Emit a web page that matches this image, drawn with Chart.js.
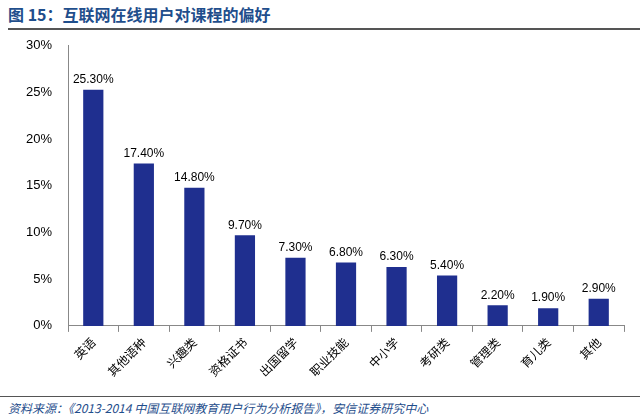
<!DOCTYPE html>
<html><head><meta charset="utf-8">
<script src="https://cdn.jsdelivr.net/npm/chart.js@4/dist/chart.umd.min.js"></script>
<style>
body{margin:0;background:#fff;width:640px;height:420px;position:relative;overflow:hidden;font-family:"Noto Sans CJK SC",sans-serif}
#title{position:absolute;left:8px;top:2px;font-size:16px;font-weight:bold;color:#1f4e8c}
#tl{position:absolute;left:8px;right:0;top:28px;border-top:2px solid #555}
#bl{position:absolute;left:0;right:0;top:396px;border-top:1px solid #555}
#src{position:absolute;left:8px;top:399px;font-size:12px;font-style:italic;color:#1f4e8c}
#wrap{position:absolute;left:0;top:30px;width:640px;height:362px}
</style></head><body>
<div id="title">图 15：互联网在线用户对课程的偏好</div>
<div id="tl"></div>
<div id="wrap"><canvas id="c"></canvas></div>
<div id="bl"></div>
<div id="src">资料来源：《2013-2014 中国互联网教育用户行为分析报告》，安信证券研究中心</div>
<script>
const categories=["英语","其他语种","兴趣类","资格证书","出国留学","职业技能","中小学","考研类","管理类","育儿类","其他"];
const values=[25.3,17.4,14.8,9.7,7.3,6.8,6.3,5.4,2.2,1.9,2.9];
const yTicks=[0,5,10,15,20,25,30];
const labelPlugin={id:'lbl',afterDatasetsDraw(ch){const ctx=ch.ctx;const m=ch.getDatasetMeta(0);ctx.save();ctx.font='12px "Liberation Sans",Arial';ctx.fillStyle='#000';ctx.textAlign='center';ctx.textBaseline='bottom';
m.data.forEach((b,i)=>ctx.fillText(values[i].toFixed(2)+'%',b.x,b.y-4));ctx.restore();}};
new Chart(document.getElementById('c'),{type:'bar',
data:{labels:categories,datasets:[{data:values,backgroundColor:'#1f2f8f',barPercentage:0.4,categoryPercentage:1}]},
options:{responsive:true,maintainAspectRatio:false,animation:false,
layout:{padding:{left:18,right:16,top:8,bottom:10}},
plugins:{legend:{display:false},tooltip:{enabled:false}},
scales:{y:{min:0,max:30,afterBuildTicks(a){a.ticks=yTicks.map(v=>({value:v}));},
ticks:{callback:v=>v+'%',color:'#000',font:{size:13,family:'"Liberation Sans",Arial'},padding:8},
grid:{display:false,drawTicks:true},border:{color:'#888'}},
x:{ticks:{color:'#000',maxRotation:45,minRotation:45,font:{size:12,family:'"Noto Sans CJK SC"'}},
grid:{offset:true,display:true,drawOnChartArea:false,tickLength:6,color:'#888'},border:{color:'#888'}}}},
plugins:[labelPlugin]});
</script></body></html>
